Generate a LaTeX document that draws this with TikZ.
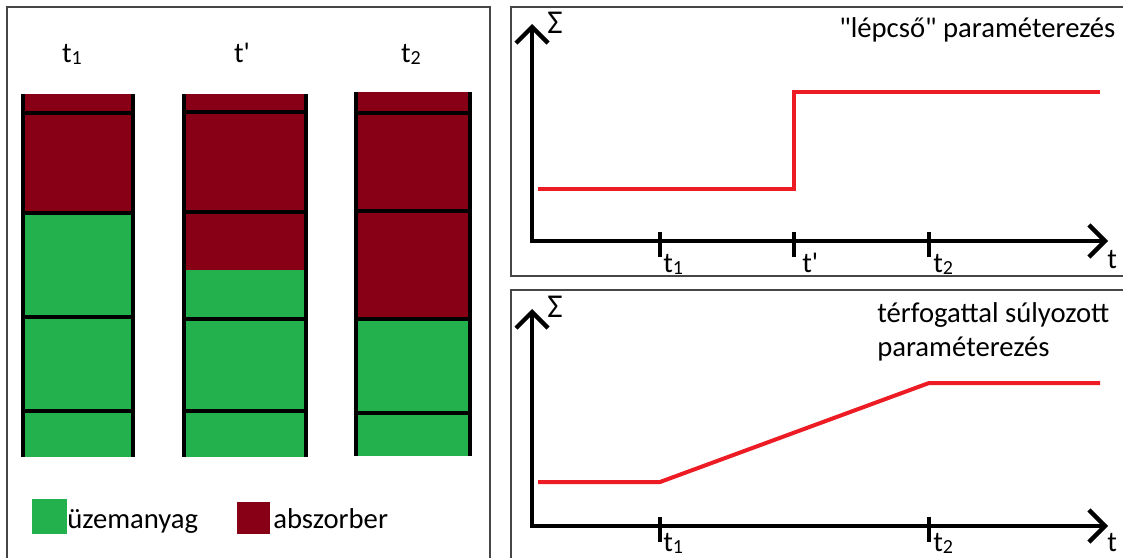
\documentclass[tikz,border=0pt]{standalone}
\usepackage{fontspec}
\setmainfont{Carlito}
\usetikzlibrary{arrows.meta}
\definecolor{fuel}{RGB}{34,177,76}
\definecolor{absorb}{RGB}{136,0,21}
\definecolor{curvered}{RGB}{237,28,36}
\definecolor{framegray}{RGB}{70,70,70}
\newcommand{\tsb}[1]{t\raisebox{-0.08em}{\fontsize{15}{15}\selectfont #1}}
\newcommand{\tpr}{t\textquotesingle}
\begin{document}
\begin{tikzpicture}[x=0.75pt,y=-0.75pt,
  panel/.style={draw=framegray,line width=1.1pt},
  axes/.style={line width=3.3pt,line join=miter,
    {Straight Barb[length=12pt,width=24pt,line width=3.3pt]}-{Straight Barb[length=12pt,width=24pt,line width=3.3pt]}},
  tickmark/.style={line width=3.3pt},
  curveline/.style={draw=curvered,line width=3pt},
  sep/.style={line width=3pt},
  lbl/.style={font=\fontsize{21.5}{26}\selectfont,inner sep=0pt,text=black},
  sigma/.style={font=\fontsize{25}{28}\selectfont,inner sep=0pt,text=black},
]
\useasboundingbox (0,0) rectangle (1123,557);
\clip (0,0) rectangle (1123,557);
\fill[white] (0,0) rectangle (1123,557);

% ---------- panels ----------
\draw[panel] (7,600) -- (7,7) -- (490,7) -- (490,600);
\draw[panel] (511,7) rectangle (1130,276);
\draw[panel] (511,290) rectangle (1130,600);

% ---------- left: columns ----------
% column 1
\fill[absorb] (22,94) rectangle (133,213);
\fill[fuel] (22,213) rectangle (133,457);
\foreach \yy in {113,213,317,411} \draw[sep] (22,\yy) -- (133,\yy);
\fill[black] (20.5,94) rectangle (24.5,457);
\fill[black] (131,94) rectangle (135,457);
% column 2
\fill[absorb] (184,94) rectangle (306,270);
\fill[fuel] (184,270) rectangle (306,457);
\foreach \yy in {112,212,319,411} \draw[sep] (184,\yy) -- (306,\yy);
\fill[black] (182,94) rectangle (186,457);
\fill[black] (304,94) rectangle (308,457);
% column 3
\fill[absorb] (356,92) rectangle (470,319);
\fill[fuel] (356,319) rectangle (470,456);
\foreach \yy in {113,211,319,413} \draw[sep] (356,\yy) -- (470,\yy);
\fill[black] (354,92) rectangle (358,456);
\fill[black] (468,92) rectangle (472,456);

\node[lbl,anchor=base] (c1) at (72,62) {\tsb{1}};
\node[lbl,anchor=base] (c2) at (242,62) {\tpr};
\node[lbl,anchor=base] (c3) at (411,62) {\tsb{2}};

% legend
\fill[fuel] (32,499) rectangle (67,534);
\node[lbl,anchor=base west] (lg1) at (67,528) {üzemanyag};
\fill[absorb] (237,502) rectangle (270,534);
\node[lbl,anchor=base west] (lg2) at (273,528) {abszorber};

% ---------- top chart ----------
\coordinate (ya) at (532,24);
\coordinate (xa) at (1108,241);
\draw[axes] (ya) |- (xa);
\foreach \xx in {660,794,929} \draw[tickmark] (\xx,232) -- (\xx,257);
\draw[curveline] (538,189) -- (794,189) -- (794,92) -- (1100,92);
\node[sigma,anchor=base west] (sa) at (547,33) {Σ};
\node[lbl,anchor=base west] (ta1) at (663,272) {\tsb{1}};
\node[lbl,anchor=base west] (ta2) at (802,272) {\tpr};
\node[lbl,anchor=base west] (ta3) at (933,272) {\tsb{2}};
\node[lbl,anchor=base west] (ta4) at (1107,268) {t};
\node[lbl,anchor=base west] (titlea) at (839,37) {\textquotedbl lépcső\textquotedbl{} paraméterezés};

% ---------- bottom chart ----------
\coordinate (yb) at (532,309);
\coordinate (xb) at (1108,526);
\draw[axes] (yb) |- (xb);
\foreach \xx in {660,929} \draw[tickmark] (\xx,517) -- (\xx,542);
\draw[curveline] (538,482) -- (660,482) -- (929,383) -- (1100,383);
\node[sigma,anchor=base west] (sb) at (547,317) {Σ};
\node[lbl,anchor=base west] (tb1) at (663,551) {\tsb{1}};
\node[lbl,anchor=base west] (tb3) at (933,551) {\tsb{2}};
\node[lbl,anchor=base west] (tb4) at (1107,551) {t};
\node[lbl,anchor=base west] (titleb1) at (877,322) {térfogattal súlyozott};
\node[lbl,anchor=base west] (titleb2) at (877,356) {paraméterezés};
\end{tikzpicture}
\end{document}
